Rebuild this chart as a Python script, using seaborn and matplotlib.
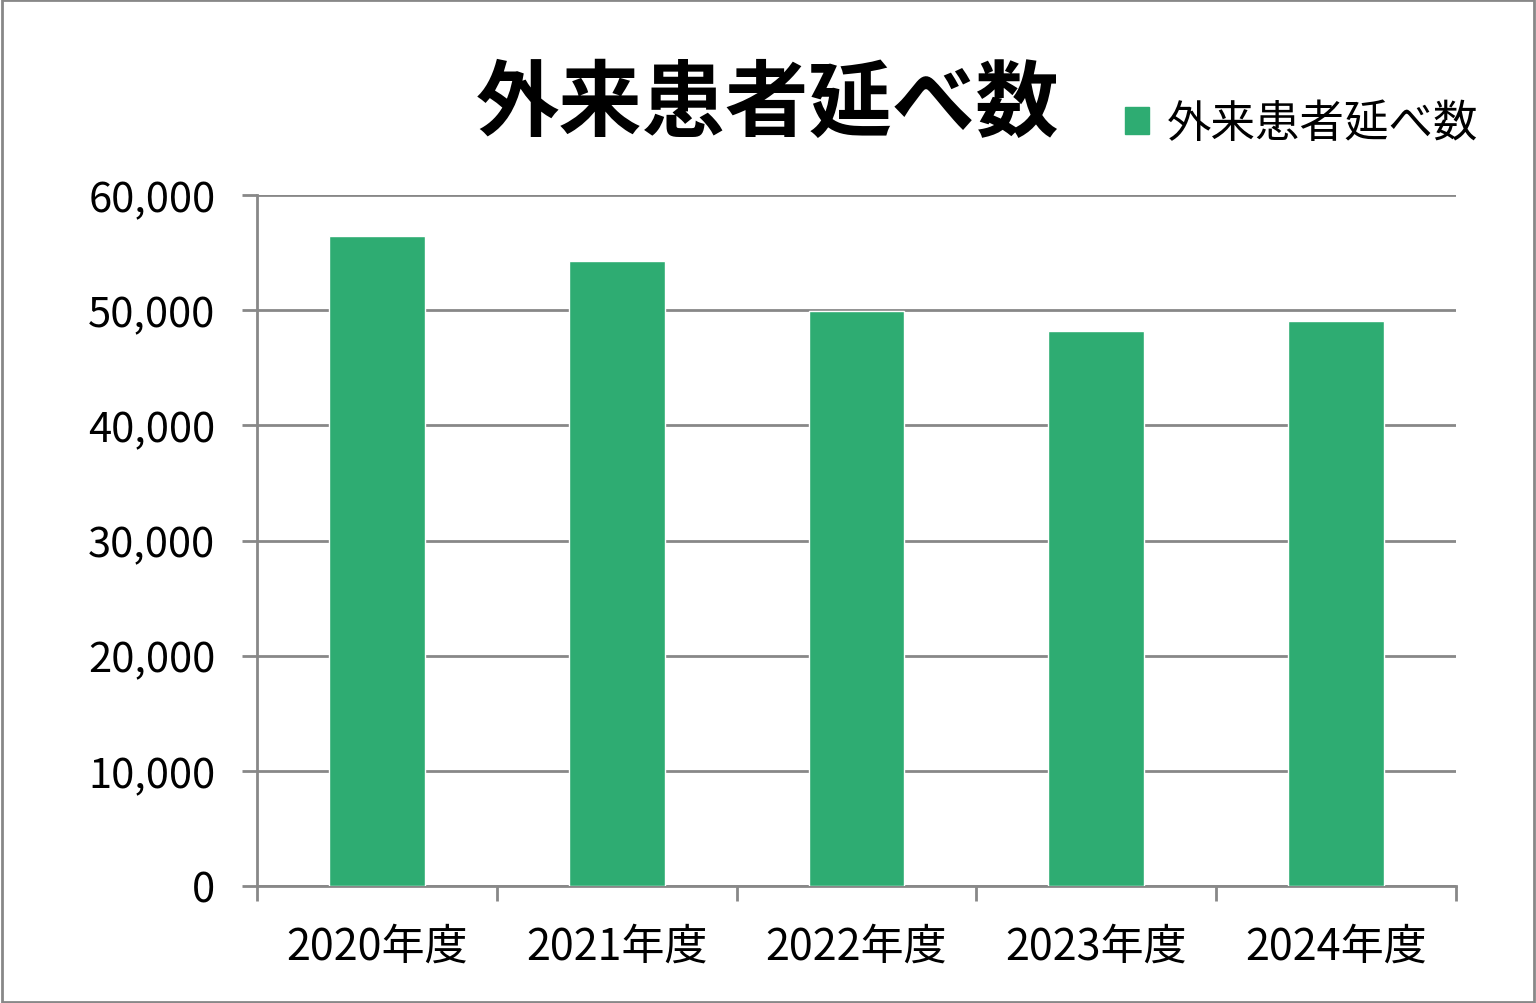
import numpy as np
import pandas as pd
import matplotlib
matplotlib.use("Agg")
import matplotlib.pyplot as plt
import seaborn as sns
from matplotlib.ticker import FuncFormatter
from matplotlib.patches import Rectangle

years = ["2020年度", "2021年度", "2022年度", "2023年度", "2024年度"]
visits = [56400, 54300, 49900, 48200, 49100]
series_name = "外来患者延べ数"
y_ticks = [0, 10000, 20000, 30000, 40000, 50000, 60000]

sns.set_style("white")
plt.rcParams['font.family'] = ['Noto Sans CJK JP', 'DejaVu Sans']
plt.rcParams['text.color'] = "black"
plt.rcParams['xtick.color'] = "black"
plt.rcParams['ytick.color'] = "black"

df = pd.DataFrame({"year": years, "visits": visits})

fig = plt.figure(figsize=(15.36, 10.04), dpi=100)
ax = fig.add_axes([257 / 1536, 1 - 887 / 1004, (1456 - 257) / 1536, (887 - 196) / 1004])

green = "#2EAC72"
grey = "#888888"
sns.barplot(data=df, x="year", y="visits", color=green, width=0.4, ax=ax,
            saturation=1, zorder=3)

ax.set_xlim(-0.5, len(years) - 0.5)
ax.set_ylim(0, 60000)
ax.set_yticks(y_ticks)
ax.yaxis.set_major_formatter(FuncFormatter(lambda v, p: f"{int(v):,}"))
ax.grid(axis="y", color=grey, linewidth=2, zorder=0)
ax.set_axisbelow(True)
ax.set_xlabel("")
ax.set_ylabel("")

for s in ["top", "right"]:
    ax.spines[s].set_visible(False)
for s in ["left", "bottom"]:
    ax.spines[s].set_color(grey)
    ax.spines[s].set_linewidth(2)

# category boundary ticks on x, labels centered
ax.set_xticks(np.arange(-0.5, len(years), 1.0))
ax.set_xticklabels([])
ax.set_xticks(range(len(years)), minor=True)
ax.set_xticklabels(years, minor=True)
ax.tick_params(axis="x", which="major", bottom=True, length=11, width=2, color=grey, direction="out")
ax.tick_params(axis="x", which="minor", bottom=True, length=0, labelsize=31, pad=28, labelcolor="black")
ax.tick_params(axis="y", left=True, length=11, width=2, color=grey, direction="out",
               labelsize=30, pad=19, labelcolor="black")

fig.legend(handles=[Rectangle((0, 0), 1, 1, color=green)], labels=[series_name],
           loc="center left", bbox_to_anchor=(1085 / 1536, 1 - 124 / 1004),
           frameon=False, fontsize=32, handlelength=0.55, handleheight=0.55,
           handletextpad=0.4, labelcolor="black")

fig.text(768 / 1536, 1 - 106 / 1004, series_name, ha="center", va="center",
         fontsize=60, fontweight="bold", color="black")

fig.patches.append(Rectangle((0.001, 0.001), 0.998, 0.998, transform=fig.transFigure,
                             fill=False, edgecolor=grey, linewidth=2))

fig.savefig("out.png", dpi=100)
